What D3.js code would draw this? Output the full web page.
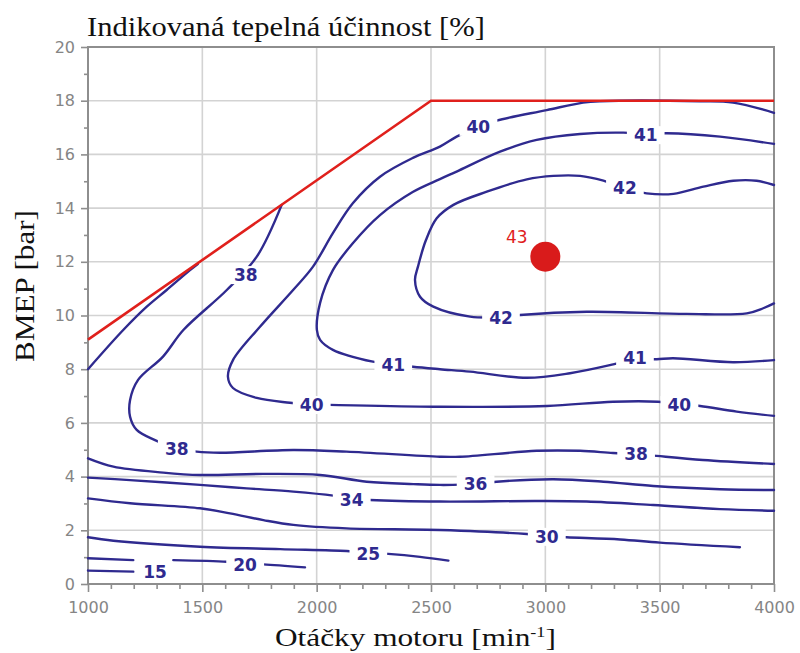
<!DOCTYPE html>
<html><head><meta charset="utf-8">
<script src="https://cdn.jsdelivr.net/npm/d3@7"></script>
<style>body{margin:0;background:#fff}svg{display:block}</style>
</head><body><svg id="chart" width="800" height="653"></svg>
<script>
// ---- data ----
const xMajorTicks = [1000,1500,2000,2500,3000,3500,4000];
const xMinorTicks = d3.range(1100,4000,100).filter(v => v % 500 !== 0);
const yMajorTicks = [0,2,4,6,8,10,12,14,16,18,20];
const yMinorTicks = [1,3,5,7,9,11,13,15,17,19];

const wotRpm  = [1000, 2500, 4000];
const wotBmep = [9.1, 18.0, 18.0];

const c15  = [[1000,0.50],[1198,0.46]];
const c20a = [[1000,0.96],[1198,0.89]];
const c20b = [[1373,0.89],[1607,0.83],[1687,0.76],[1767,0.73],[1949,0.62]];
const c25  = [[1000,1.74],[1111,1.61],[1490,1.39],[1840,1.30],[2131,1.23],[2226,1.16],[2313,1.12],[2452,1.01],[2576,0.87]];
const c30  = [[1000,3.19],[1184,3.01],[1490,2.82],[1621,2.63],[1767,2.38],[1898,2.20],[2131,2.07],[2539,2.01],[2919,1.86],[3006,1.78],[3093,1.74],[3327,1.66],[3501,1.54],[3851,1.37]];
const c34  = [[1000,3.96],[1184,3.87],[1490,3.69],[1694,3.56],[1898,3.44],[2073,3.29],[2153,3.18],[2233,3.13],[2539,3.07],[2962,3.09],[3181,3.07],[3472,2.94],[3764,2.79],[4000,2.73]];
const c36  = [[1000,4.68],[1111,4.37],[1329,4.15],[1490,4.06],[1767,4.10],[2015,4.06],[2219,3.81],[2423,3.72],[2539,3.69],[2692,3.72],[2787,3.81],[3035,3.90],[3254,3.81],[3472,3.65],[3764,3.53],[4000,3.50]];
const cEdge = [[1000,8.0],[1154,9.46],[1257,10.33],[1344,10.95],[1446,11.69],[1480,11.92]];
const c38  = [[1847,14.12],[1738,12.19],[1607,10.95],[1417,9.46],[1328,8.47],[1219,7.60],[1184,6.85],[1184,6.23],[1213,5.74],[1293,5.36],[1388,5.05],[1475,4.93],[1577,4.89],[1897,4.99],[2131,4.93],[2539,4.74],[2627,4.74],[2962,4.96],[3152,4.96],[3296,4.88],[3400,4.84],[3487,4.77],[3689,4.62],[4000,4.47]];
const c40  = [[4000,17.55],[3821,17.93],[3677,17.98],[3239,17.98],[3165,17.93],[3006,17.65],[2787,17.26],[2706,17.03],[2612,16.66],[2539,16.29],[2421,15.87],[2277,15.17],[2159,14.19],[2071,13.07],[1984,11.82],[1897,10.95],[1752,9.58],[1634,8.34],[1612,7.72],[1634,7.30],[1738,6.93],[1883,6.75],[1984,6.67],[2058,6.67],[2539,6.60],[3006,6.63],[3296,6.79],[3493,6.79],[3589,6.70],[3677,6.63],[3837,6.42],[4000,6.26]];
const c41  = [[4000,16.39],[3764,16.66],[3531,16.79],[3436,16.76],[3341,16.81],[3152,16.76],[2962,16.54],[2802,16.10],[2612,15.36],[2539,15.08],[2420,14.6],[2277,13.74],[2159,12.70],[2071,11.69],[2015,10.47],[2001,9.46],[2015,9.09],[2071,8.72],[2246,8.28],[2334,8.18],[2421,8.09],[2539,8.00],[2671,7.91],[2919,7.68],[3108,7.85],[3297,8.18],[3392,8.38],[3487,8.37],[3558,8.41],[3821,8.26],[4000,8.34]];
const c42  = [[4000,14.86],[3924,15.02],[3822,15.02],[3691,14.80],[3560,14.53],[3443,14.55],[3348,14.74],[3254,15.02],[3152,15.20],[3035,15.20],[2919,15.07],[2744,14.61],[2598,14.12],[2525,13.62],[2478,12.81],[2443,11.82],[2430,11.32],[2452,10.70],[2510,10.33],[2671,9.96],[2806,9.94],[2889,10.02],[3181,10.14],[3618,10.06],[3881,10.08],[3953,10.27],[4000,10.45]];

const labelText = ["38","38","38","40","40","40","41","41","41","42","42","36","34","30","25","20","15"];
const labelRpm  = [1690,1388,3397,2707,1978,3586,3439,2335,3392,3348,2806,2695,2153,3006,2226,1687,1293];
const labelBmep = [11.51,5.05,4.83,17.03,6.67,6.67,16.72,8.16,8.41,14.74,9.92,3.72,3.13,1.76,1.12,0.71,0.46];

const optimumRpm = 3000, optimumBmep = 12.19, optimumText = "43";
const optimumLabelRpm = 2875, optimumLabelBmep = 12.94;

// ---- drawing ----
const contours = [c15, c20a, c20b, c25, c30, c34, c36, cEdge, c38, c40, c41, c42];
const svg = d3.select("#chart");
const x = d3.scaleLinear().domain([1000,4000]).range([88,774]);
const y = d3.scaleLinear().domain([0,20]).range([584,47]);
const blue = "#2f2a8f", red = "#e0201c", frame = "#8e8e8e", grid = "#d3d3d3";

// grid
svg.append("g").selectAll("line").data(xMajorTicks.slice(1,-1)).join("line")
  .attr("x1", d=>x(d)).attr("x2", d=>x(d)).attr("y1", y(0)).attr("y2", y(20))
  .attr("stroke", grid).attr("stroke-width", 1.6);
svg.append("g").selectAll("line").data(yMajorTicks.slice(1,-1)).join("line")
  .attr("y1", d=>y(d)).attr("y2", d=>y(d)).attr("x1", x(1000)).attr("x2", x(4000))
  .attr("stroke", grid).attr("stroke-width", 1.6);

// axes
const tickFont = "'DejaVu Sans', sans-serif";
const gy = svg.append("g").attr("transform", `translate(${x(1000)},0)`)
  .call(d3.axisLeft(y).tickValues(yMajorTicks).tickSize(7).tickPadding(6).tickFormat(d3.format("d")));
const gy2 = svg.append("g").attr("transform", `translate(${x(1000)},0)`)
  .call(d3.axisLeft(y).tickValues(yMinorTicks).tickSize(4).tickFormat(""));
const gx = svg.append("g").attr("transform", `translate(0,${y(0)})`)
  .call(d3.axisBottom(x).tickValues(xMajorTicks).tickSize(8).tickPadding(10).tickFormat(d3.format("d")));
const gx2 = svg.append("g").attr("transform", `translate(0,${y(0)})`)
  .call(d3.axisBottom(x).tickValues(xMinorTicks).tickSize(5).tickFormat(""));
[gy,gy2,gx,gx2].forEach(g => {
  g.select(".domain").remove();
  g.selectAll(".tick line").attr("stroke", frame).attr("stroke-width", 1.6);
  g.selectAll(".tick text").attr("fill", "#858585").style("font-family", tickFont).style("font-size", "16px");
});

// frame
svg.append("rect").attr("x", x(1000)).attr("y", y(20)).attr("width", x(4000)-x(1000)).attr("height", y(0)-y(20))
  .attr("fill", "none").attr("stroke", frame).attr("stroke-width", 2);

// contours
const line = d3.line().x(d=>x(d[0])).y(d=>y(d[1])).curve(d3.curveCatmullRom.alpha(0.5));
svg.append("g").selectAll("path").data(contours).join("path")
  .attr("d", line).attr("fill", "none").attr("stroke", blue).attr("stroke-width", 2.4)
  .attr("stroke-linecap", "round").attr("stroke-linejoin", "round");

// labels with white background
const lg = svg.append("g");
labelText.forEach((t, i) => {
  const g = lg.append("g").attr("transform", `translate(${x(labelRpm[i])},${y(labelBmep[i])})`);
  const r = g.append("rect").attr("fill", "#fff");
  const tx = g.append("text").text(t).attr("text-anchor", "middle").attr("dy", "0.36em")
    .attr("fill", blue).style("font-family", tickFont).style("font-weight", "bold").style("font-size", "17px");
  const b = tx.node().getBBox();
  r.attr("x", b.x - 7).attr("y", b.y + 1).attr("width", b.width + 14).attr("height", b.height - 2);
});

// WOT boundary
svg.append("path").datum(wotRpm.map((r,i)=>[r, wotBmep[i]]))
  .attr("d", d3.line().x(d=>x(d[0])).y(d=>y(d[1])))
  .attr("fill", "none").attr("stroke", red).attr("stroke-width", 2.6);

// optimum
svg.append("circle").attr("cx", x(optimumRpm)).attr("cy", y(optimumBmep)).attr("r", 15).attr("fill", "#d91b1b");
svg.append("text").attr("x", x(optimumLabelRpm)).attr("y", y(optimumLabelBmep)).attr("dy", "0.36em")
  .attr("text-anchor", "middle").attr("fill", red).style("font-family", tickFont).style("font-size", "17px").text(optimumText);

// titles (serif, stretched to reference widths)
const serif = "'Liberation Serif', 'Times New Roman', serif";
function fit(sel, targetW) {
  const w = sel.node().getBBox().width;
  return targetW / w;
}
const title = svg.append("text").style("font-family", serif).style("font-size", "27px").attr("fill", "#111")
  .text("Indikovaná tepelná účinnost [%]");
title.attr("transform", `translate(87,36) scale(${fit(title, 398)},1)`);

const xl = svg.append("text").style("font-family", serif).style("font-size", "26px").attr("fill", "#111");
xl.append("tspan").text("Otáčky motoru [min");
xl.append("tspan").attr("dy", -9).style("font-size", "15px").text("-1");
xl.append("tspan").attr("dy", 9).text("]");
xl.attr("transform", `translate(275,646) scale(${fit(xl, 281)},1)`);

const yl = svg.append("text").style("font-family", serif).style("font-size", "27px").attr("fill", "#111")
  .attr("text-anchor", "middle").text("BMEP [bar]");
yl.attr("transform", `translate(34,286) rotate(-90) scale(${fit(yl, 152)},1)`);
</script>
</body></html>
